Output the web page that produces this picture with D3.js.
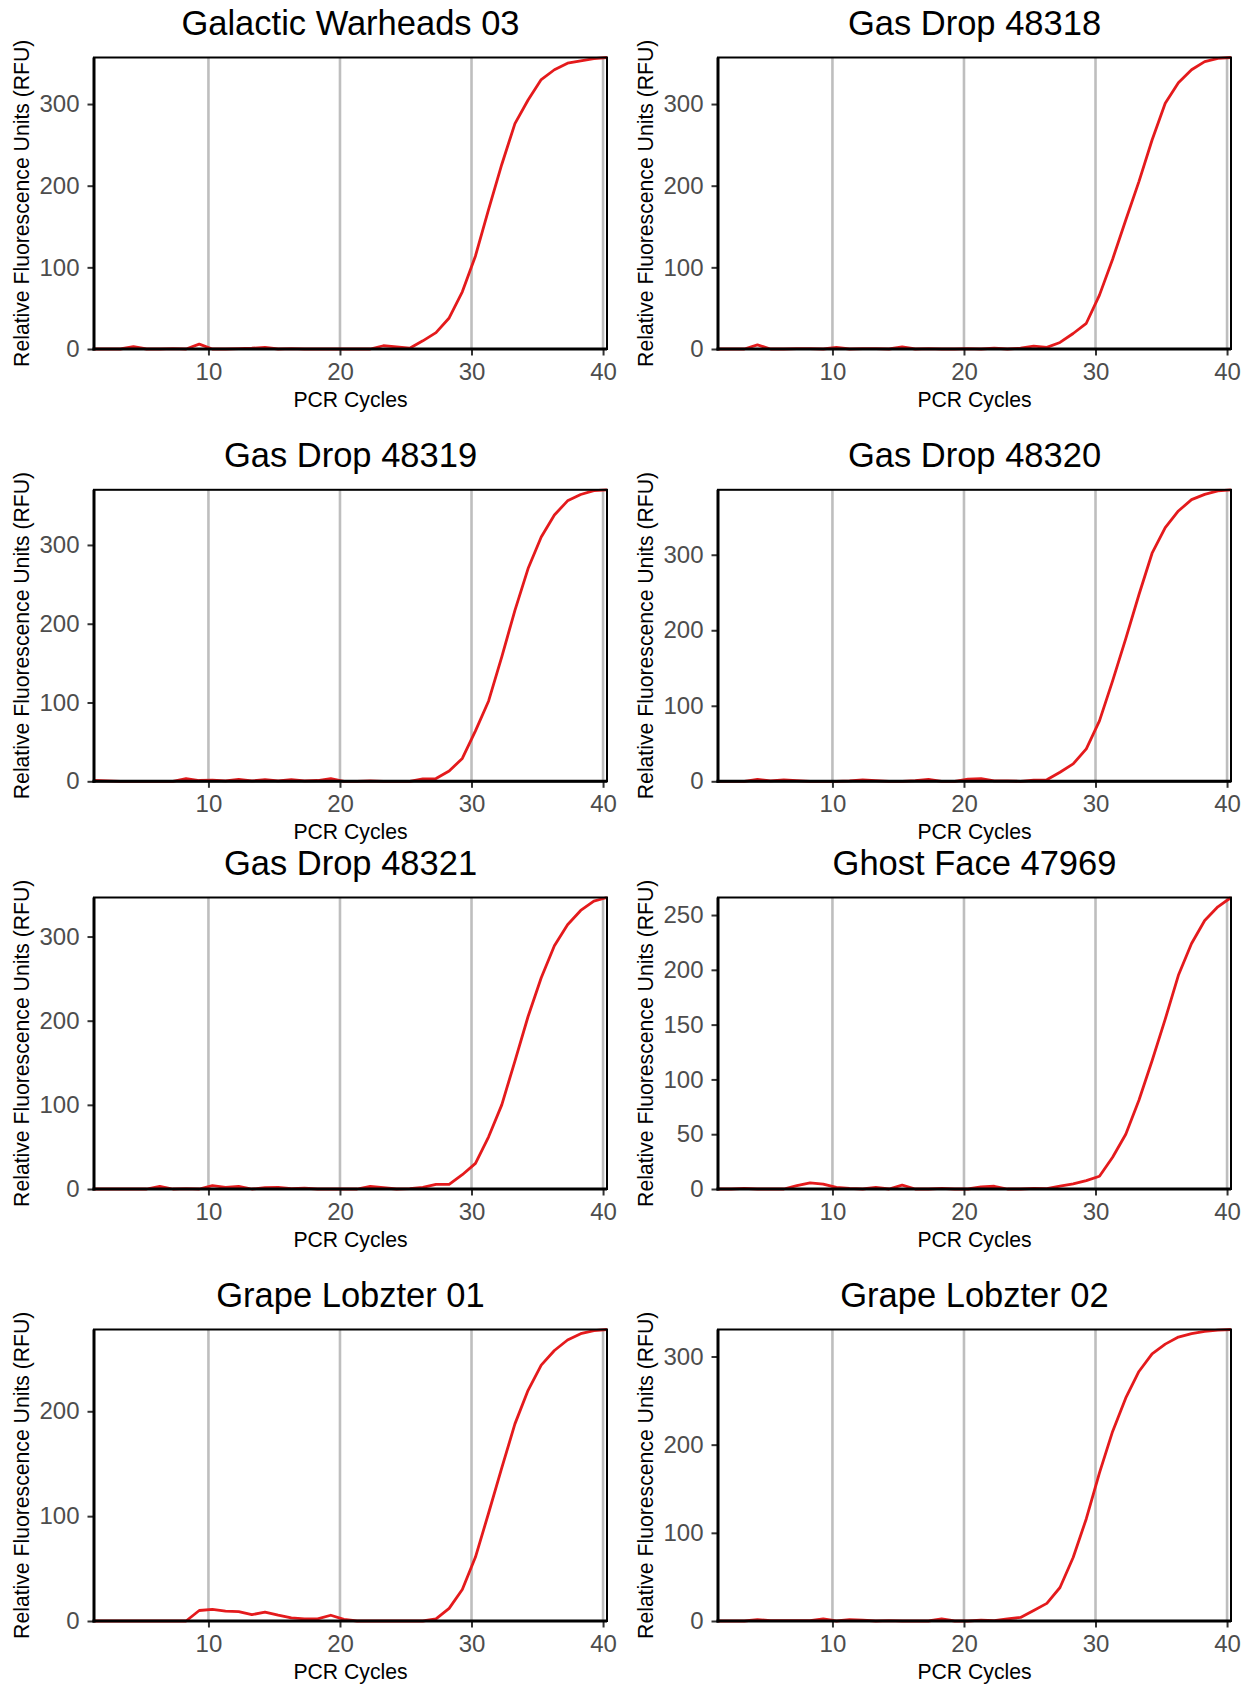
<!DOCTYPE html>
<html>
<head>
<meta charset="utf-8">
<script src="https://cdn.jsdelivr.net/npm/d3@7"></script>
<style>
  body { margin: 0; background: #ffffff; }
  svg { display: block; }
  text { font-family: "Liberation Sans", Arial, Helvetica, sans-serif; }
</style>
</head>
<body>
<svg id="chart" width="1252" height="1687"></svg>
<script>
// ---------- data ----------
const titles = [
  "Galactic Warheads 03", "Gas Drop 48318",
  "Gas Drop 48319", "Gas Drop 48320",
  "Gas Drop 48321", "Ghost Face 47969",
  "Grape Lobzter 01", "Grape Lobzter 02"
];

// x position of each reading on the PCR-cycle axis
const cycles = [1.3, 2.3, 3.3, 4.3, 5.3, 6.3, 7.3, 8.3, 9.3, 10.3,
  11.3, 12.3, 13.3, 14.3, 15.3, 16.3, 17.3, 18.3, 19.3, 20.3,
  21.3, 22.3, 23.3, 24.3, 25.3, 26.3, 27.3, 28.3, 29.3, 30.3,
  31.3, 32.3, 33.3, 34.3, 35.3, 36.3, 37.3, 38.3, 39.3, 40.3];

const galacticWarheads03 = [0, 0, 0, 3, 0, 0, 0.5, 0, 6, 0,
  0, 0.5, 1, 2, 0, 0.5, 0, 0, 0, 0,
  0, 0, 4, 2.5, 1, 10, 20, 38, 70, 114,
  171, 226, 276, 305, 330, 342, 350, 353, 355.5, 357];

const gasDrop48318 = [0, 0, 0, 5, 0, 0, 0.5, 0.5, 0, 2,
  0, 0.5, 0.5, 0, 2.5, 0, 0.5, 0, 0, 0.5,
  0, 1, 0, 1, 3.5, 2, 8, 19, 31.5, 66,
  110, 158, 205, 256, 301, 326, 342, 352, 356, 357];

const gasDrop48319 = [1, 0.5, 0, 0, 0, 0, 0, 3.5, 1, 1.5,
  0.5, 2.5, 0.5, 2, 0.5, 2, 0.5, 1, 3.5, 0,
  0, 0.5, 0, 0, 0, 3, 3.5, 13, 29, 64,
  102, 158, 217, 270, 310, 338, 356, 364, 369, 370];

const gasDrop48320 = [0, 0, 0, 2.5, 0.5, 2, 1, 0, 0, 0,
  0.5, 2, 1, 0, 0, 1, 2.5, 0, 0, 3,
  3.5, 0.5, 0.5, 0, 1.5, 2, 12, 23, 43, 80,
  133, 189, 247, 302, 336, 358, 373, 380, 384.5, 386];

const gasDrop48321 = [0, 0, 0, 0, 0, 3, 0, 0.5, 0, 4,
  2, 3, 0, 1.5, 2, 0.5, 1, 0, 0, 0,
  0, 3, 1.5, 0, 0.5, 2, 5.5, 5.5, 17, 30.5,
  62, 100, 152, 205, 251, 289, 314, 331, 342, 346.4];

const ghostFace47969 = [0, 0, 0.5, 0, 0, 0, 3, 5.5, 4.5, 1.5,
  0.5, 0, 1.5, 0, 3.5, 0, 0, 0.5, 0, 0,
  2, 2.5, 0, 0, 0.5, 0.3, 2.7, 4.6, 7.6, 11.6,
  29, 50, 81, 117, 155, 195, 224, 245, 257.5, 266];

const grapeLobzter01 = [0, 0, 0, 0, 0, 0, 0, 0, 10, 11,
  9.5, 9, 6, 8.5, 5.5, 3, 2, 2, 5.5, 1.5,
  0, 0, 0, 0, 0, 0, 2, 12, 30, 61,
  103, 146, 188, 220, 244, 258, 268, 274, 277, 278];

const grapeLobzter02 = [0, 0, 0, 1.5, 0.5, 0.5, 0.5, 0.5, 2.5, 0,
  1.5, 1, 0, 0.5, 0, 0, 0, 2.5, 0, 0,
  1, 0.5, 2.5, 4, 12, 20, 38, 72, 116, 168,
  215, 253, 283, 303, 314, 322, 326, 328.5, 330, 330.6];

const seriesList = [galacticWarheads03, gasDrop48318, gasDrop48319, gasDrop48320,
  gasDrop48321, ghostFace47969, grapeLobzter01, grapeLobzter02];

const yTickValues = [
  [0, 100, 200, 300], [0, 100, 200, 300],
  [0, 100, 200, 300], [0, 100, 200, 300],
  [0, 100, 200, 300], [0, 50, 100, 150, 200, 250],
  [0, 100, 200], [0, 100, 200, 300]
];
const xTickValues = [10, 20, 30, 40];

const xTitle = "PCR Cycles";
const yTitle = "Relative Fluorescence Units (RFU)";

// ---------- layout ----------
const colLeft = [94, 718];
const rowTop = [57.5, 489.8, 897.5, 1329.5];
const panelW = 513;
const panelH = 291.5;

const svg = d3.select("#chart");

seriesList.forEach((values, i) => {
  const col = i % 2, row = Math.floor(i / 2);
  const left = colLeft[col], top = rowTop[row];
  const g = svg.append("g").attr("transform", `translate(${left},${top})`);

  const x = d3.scaleLinear().domain(d3.extent(cycles)).range([0, panelW]);
  const y = d3.scaleLinear().domain([0, d3.max(values)]).range([panelH, 0]);

  // vertical major gridlines
  g.append("g").selectAll("line").data(xTickValues).join("line")
    .attr("x1", d => x(d)).attr("x2", d => x(d))
    .attr("y1", 0).attr("y2", panelH)
    .attr("stroke", "#bebebe").attr("stroke-width", 2.6);

  // data line
  const data = cycles.map((c, k) => [c, values[k]]);
  g.append("path").datum(data)
    .attr("fill", "none")
    .attr("stroke", "#e41a1c")
    .attr("stroke-width", 2.8)
    .attr("stroke-linejoin", "round")
    .attr("d", d3.line().x(d => x(d[0])).y(d => y(d[1])));

  // panel border
  g.append("rect").attr("x", 0).attr("y", 0)
    .attr("width", panelW).attr("height", panelH)
    .attr("fill", "none").attr("stroke", "#000").attr("stroke-width", 2);

  // axes
  const xAxis = g.append("g").attr("transform", `translate(0,${panelH})`)
    .call(d3.axisBottom(x).tickValues(xTickValues).tickSize(6.5).tickPadding(7).tickSizeOuter(0));
  const yAxis = g.append("g")
    .call(d3.axisLeft(y).tickValues(yTickValues[i]).tickSize(6.5).tickPadding(8).tickSizeOuter(0));
  [xAxis, yAxis].forEach(ax => {
    ax.select(".domain").remove();
    ax.selectAll(".tick line").attr("stroke", "#333333").attr("stroke-width", 2);
    ax.selectAll(".tick text").attr("fill", "#4d4d4d")
      .style("font-size", "24px")
      .style("font-family", '"Liberation Sans", Arial, Helvetica, sans-serif');
  });

  // axis lines (left & bottom)
  g.append("line").attr("x1", 0).attr("x2", 0).attr("y1", 0).attr("y2", panelH + 1.5)
    .attr("stroke", "#000").attr("stroke-width", 3);
  g.append("line").attr("x1", -1.5).attr("x2", panelW).attr("y1", panelH).attr("y2", panelH)
    .attr("stroke", "#000").attr("stroke-width", 3);

  // title
  g.append("text").attr("x", panelW / 2).attr("y", -23)
    .attr("text-anchor", "middle").attr("fill", "#000")
    .style("font-size", "34.5px").text(titles[i]);

  // x axis title
  g.append("text").attr("x", panelW / 2).attr("y", panelH + 58)
    .attr("text-anchor", "middle").attr("fill", "#000")
    .style("font-size", "21.2px").text(xTitle);

  // y axis title
  g.append("text")
    .attr("transform", `translate(-65,${panelH / 2}) rotate(-90)`)
    .attr("text-anchor", "middle").attr("fill", "#000")
    .style("font-size", "21.2px").text(yTitle);
});
</script>
</body>
</html>
